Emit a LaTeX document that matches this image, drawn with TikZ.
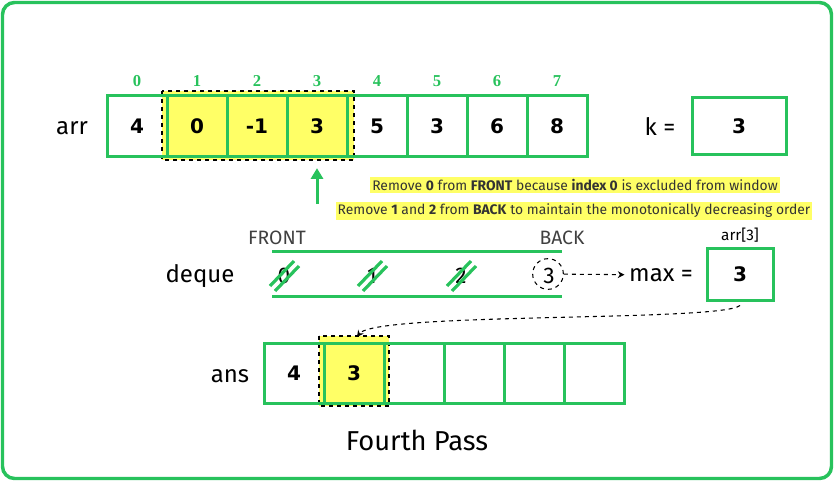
\documentclass[tikz,border=0pt]{standalone}
\usepackage{fontspec}
\setmainfont{Fira Sans}
\newfontfamily\digitfont{DejaVu Sans}
\newfontfamily\idxfont{Liberation Serif}
\usetikzlibrary{arrows.meta, positioning}
\definecolor{gfg}{RGB}{40,194,92}
\definecolor{hl}{RGB}{255,255,102}
\tikzset{
  cell/.style={draw=gfg, line width=2.25pt, minimum size=45pt, inner sep=0pt,
    font=\digitfont\bfseries\fontsize{15}{17}\selectfont},
  hcell/.style={cell, fill=hl},
  idx/.style={text=gfg, font=\idxfont\bfseries\fontsize{12.5}{14}\selectfont},
  lbl/.style={font=\fontsize{18}{21}\selectfont},
  note/.style={fill=hl, inner sep=1.5pt, font=\fontsize{10.4}{12}\selectfont, text=black!80},
  strike/.style={draw=gfg, line width=2.4pt},
  gline/.style={draw=gfg, line width=2.25pt},
  dbox/.style={draw, dashed, line width=0.9pt, fill=hl}
}
\begin{document}
\begin{tikzpicture}[x=0.75pt, y=-0.75pt]
\useasboundingbox (0,0) rectangle (834,481);
\draw[gfg, line width=2.6pt, rounded corners=9pt] (2.5,2.5) rectangle (831.5,478.5);
\node[lbl] (arr) at (72,128) {arr};
\draw[dbox] (162,91) rectangle (354,160);
\foreach \v/\s [count=\i from 0] in {4/cell,0/hcell,-1/hcell,3/hcell,5/cell,3/cell,6/cell,8/cell} {
  \node[\s] (a\i) at (137+60*\i,126) {\v};
  \node[idx] (i\i) at (137+60*\i,81) {\i};
}
\node[lbl] (k) at (660,127) {k =};
\node[cell, minimum width=70.5pt, minimum height=42.75pt] (kv) at (739,126) {3};
\coordinate (up) at (317,204);
\draw[gfg, line width=2.25pt, -{Triangle[length=8pt,width=9pt]}] (up) -- ([yshift=-8pt]a3.south);
\node[note] (n1) at (575,185) {Remove \textbf{0} from \textbf{FRONT} because \textbf{index 0} is excluded from window};
\node[note] (n2) at (574,211) {Remove \textbf{1} and \textbf{2} from \textbf{BACK} to maintain the monotonically decreasing order};
\node[text=black!75, font=\fontsize{14.5}{16}\selectfont] (front) at (277,238) {FRONT};
\node[text=black!75, font=\fontsize{14.5}{16}\selectfont] (back) at (562,238) {BACK};
\node[lbl] (dq) at (200,276) {deque};
\coordinate (tl) at (272,251);
\coordinate (tr) at (562,251);
\coordinate (bl) at (272,296);
\coordinate (br) at (562,296);
\draw[gline] (tl) -- (tr);
\draw[gline] (bl) -- (br);
\foreach \v/\x [count=\j from 0] in {0/284,1/372,2/461,3/549}
  \node[font=\fontsize{17}{19}\selectfont] (d\j) at (\x,276) {\v};
\foreach \j in {0,1,2} {
  \draw[strike] ([shift={(-14,10)}]d\j.center) -- ++(24,-25);
  \draw[strike] ([shift={(-9,15)}]d\j.center) -- ++(24,-25);
}
\node[draw, dashed, circle, line width=0.8pt, minimum size=23pt, inner sep=0pt] (c3) at (548,274) {};
\node[lbl] (mx) at (661,275) {max =};
\node[cell, minimum width=49.5pt, minimum height=39pt] (mv) at (740,274) {3};
\node[font=\fontsize{11.5}{13}\selectfont] (ml) at (740,235) {arr[3]};
\draw[dashed, line width=0.8pt, -{Stealth[length=5pt,width=5pt]}] (c3) -- (mx);
\node[lbl] (ans) at (230,376) {ans};
\draw[dbox] (319,336) rectangle (389,406);
\foreach \v/\s [count=\i from 0] in {4/cell,3/hcell,/cell,/cell,/cell,/cell}
  \node[\s] (b\i) at (294+60*\i,373) {\v};
\coordinate (tip) at (357,337);
\draw[dashed, line width=0.8pt, -{Stealth[length=5pt,width=5pt]}] ([yshift=-3pt]mv.south) .. controls (720,322) and (375,312) .. (tip);
\node[font=\fontsize{20.5}{24}\selectfont] (title) at (417,440) {Fourth Pass};
\end{tikzpicture}
\end{document}
